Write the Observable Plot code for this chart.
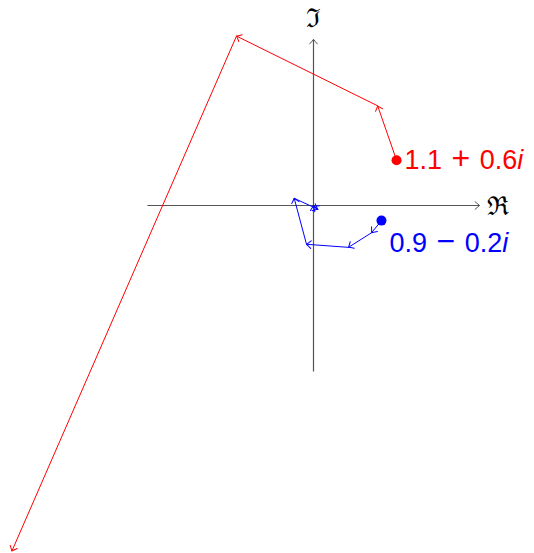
<!DOCTYPE html>
<html>
<head>
<meta charset="utf-8">
<script src="https://cdn.jsdelivr.net/npm/d3@7"></script>
<script src="https://cdn.jsdelivr.net/npm/@observablehq/plot@0.6"></script>
<style>
  html, body { margin: 0; padding: 0; background: #fff; }
</style>
</head>
<body>
<div id="chart"></div>
<script>
// Repeated squaring z -> z^2 in the complex plane, for two starting points.
const redRe  = [1.1, 0.85, -1.02, -3.995];
const redIm  = [0.6, 1.32, 2.244, -4.577];
const blueRe = [0.9, 0.77, 0.4633, -0.0927, -0.2553, 0.0561, 0.00078, -0.00003];
const blueIm = [-0.2, -0.36, -0.5544, -0.5137, 0.0953, -0.0486, -0.00546, -0.0000086];
const seriesNames  = ["red", "blue"];
const seriesLabels = ["1.1 + 0.6i", "0.9 \u2212 0.2i"];
const axisExtent = 2.2;
const axisLabels = ["\u211C", "\u2111"];

const W = 534, H = 553;
const unit = 75.5;          // pixels per unit
const ox = 313, oy = 205;   // origin position

function segments(re, im, name) {
  return d3.pairs(d3.range(re.length)).map(([a, b]) => ({
    x1: re[a], y1: im[a], x2: re[b], y2: im[b], name
  }));
}
const segs = [...segments(redRe, redIm, "red"), ...segments(blueRe, blueIm, "blue")];
const starts = [
  {x: redRe[0], y: redIm[0], name: "red", label: seriesLabels[0]},
  {x: blueRe[0], y: blueIm[0], name: "blue", label: seriesLabels[1]}
];
const axes = [
  {x1: -axisExtent, y1: 0, x2: axisExtent, y2: 0},
  {x1: 0, y1: -axisExtent, x2: 0, y2: axisExtent}
];
const color = {red: "#ff0000", blue: "#0000ff"};

const fontMain = "'Liberation Sans', Arial, Helvetica, sans-serif";

const chart = Plot.plot({
  width: W,
  height: H,
  margin: 0,
  style: {background: "#fff"},
  x: {domain: [-ox / unit, (W - ox) / unit], axis: null},
  y: {domain: [-(H - oy) / unit, oy / unit], axis: null},
  marks: [
    Plot.link(axes, {x1: "x1", y1: "y1", x2: "x2", y2: "y2", stroke: "#555", strokeWidth: 1.2, markerEnd: "arrow"}),
    Plot.text([{x: axisExtent, y: 0}], {x: "x", y: "y", text: () => axisLabels[0], dx: 18, dy: 1, fontSize: 26, fill: "#000", fontFamily: "'DejaVu Serif', serif"}),
    Plot.text([{x: 0, y: axisExtent}], {x: "x", y: "y", text: () => axisLabels[1], dy: -21, fontSize: 26, fill: "#000", fontFamily: "'DejaVu Serif', serif"}),
    Plot.link(segs, {x1: "x1", y1: "y1", x2: "x2", y2: "y2", stroke: d => color[d.name], strokeWidth: 1, markerEnd: "arrow"}),
    Plot.dot(starts, {x: "x", y: "y", r: 5, fill: d => color[d.name], stroke: "none"}),
    Plot.text(starts.slice(0, 1), {x: "x", y: "y", text: "label", textAnchor: "start", dx: 8, dy: 0, fontSize: 27, fill: color.red, fontFamily: fontMain, className: "cplx-label"}),
    Plot.text(starts.slice(1), {x: "x", y: "y", text: "label", textAnchor: "start", dx: 8, dy: 23, fontSize: 27, fill: color.blue, fontFamily: fontMain, className: "cplx-label"})
  ]
});

// Open, slightly curved arrow barbs
chart.querySelectorAll("marker").forEach(m => {
  m.setAttribute("viewBox", "-6 -6 12 12");
  m.setAttribute("markerWidth", 12);
  m.setAttribute("markerHeight", 12);
  m.setAttribute("markerUnits", "userSpaceOnUse");
  m.setAttribute("stroke-width", 1);
  const p = m.querySelector("path");
  if (p) p.setAttribute("d", "M-4.5,-3.8Q-1.2,-0.9 0,0Q-1.2,0.9 -4.5,3.8");
});

// Math-style value labels: larger operator, italic imaginary unit
const SVGNS = "http://www.w3.org/2000/svg";
chart.querySelectorAll(".cplx-label text").forEach(t => {
  const s = t.textContent;
  const m = s.match(/^(\S+) (\S) (\S+?)(i?)$/);
  if (!m) return;
  t.textContent = "";
  const add = (txt, attrs) => {
    const ts = document.createElementNS(SVGNS, "tspan");
    for (const k in attrs) ts.setAttribute(k, attrs[k]);
    ts.textContent = txt;
    t.appendChild(ts);
  };
  add(m[1] + "\u00A0", {});
  add(m[2], {"font-size": 32, "dx": 2});
  add("\u00A0" + m[3], {"dx": 2});
  if (m[4]) add(m[4], {"font-style": "italic"});
});

document.getElementById("chart").appendChild(chart);
</script>
</body>
</html>
